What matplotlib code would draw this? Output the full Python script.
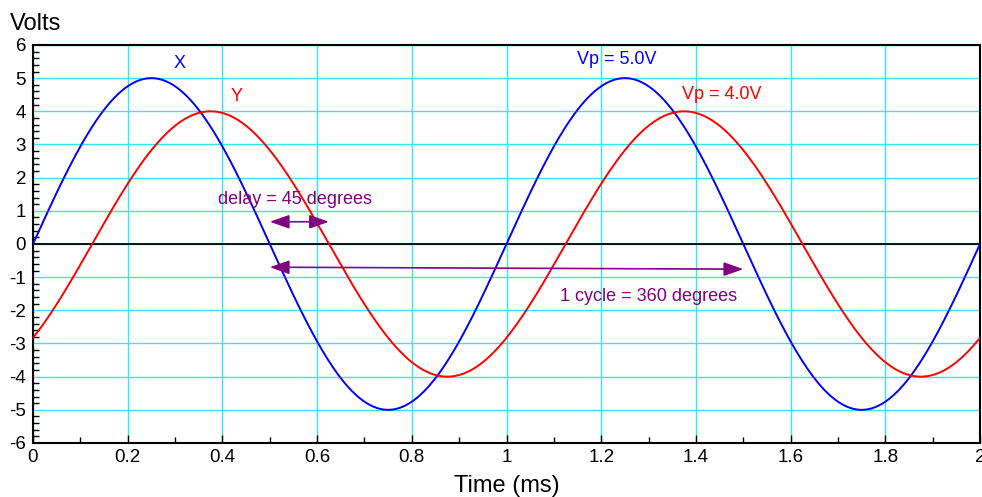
import numpy as np
import matplotlib.pyplot as plt
from matplotlib.ticker import MultipleLocator

plt.rcParams['font.family'] = ['Liberation Sans', 'DejaVu Sans']
plt.rcParams['axes.unicode_minus'] = False

# signal parameters
names = ['X', 'Y']
amplitudes = [5.0, 4.0]          # volts peak
period_ms = 1.0
delays_deg = [0.0, 45.0]
colors = ['#0000ff', '#ff0000']

t = np.linspace(0, 2, 801)

fig = plt.figure(figsize=(9.82, 4.97), dpi=100)
ax = fig.add_axes([0.0336, 0.1087, 0.9644, 0.8008])

for amp, d, c in zip(amplitudes, delays_deg, colors):
    v = amp * np.sin(2 * np.pi * t / period_ms - np.deg2rad(d))
    ax.plot(t, v, color=c, lw=1.4, zorder=3)

ax.axhline(0, color='black', lw=1.3, zorder=2)

ax.set_xlim(0, 2)
ax.set_ylim(-6, 6)
ax.xaxis.set_minor_locator(MultipleLocator(0.1))
ax.yaxis.set_major_locator(MultipleLocator(1))
ax.yaxis.set_minor_locator(MultipleLocator(0.2))
ax.set_xticks(np.arange(0, 2.01, 0.2))
ax.set_xticklabels(['0', '0.2', '0.4', '0.6', '0.8', '1', '1.2', '1.4', '1.6', '1.8', '2'])
ax.grid(True, which='major', color='#33e6f0', lw=1.0, zorder=1)
ax.tick_params(which='both', direction='in', top=False, right=False, labelsize=13.5, pad=4)
ax.tick_params(which='major', length=6, width=1)
ax.tick_params(which='minor', length=4, width=1)
ax.tick_params(axis='y', which='major', length=0, pad=5)
for s in ax.spines.values():
    s.set_linewidth(1.5)

fig.text(0.01, 0.952, 'Volts', fontsize=17, ha='left', va='center')
ax.set_xlabel('Time (ms)', fontsize=17, labelpad=7)

ax.text(0.31, 5.45, 'X', color='#0000ff', fontsize=13, ha='center', va='center')
ax.text(0.43, 4.45, 'Y', color='#ff0000', fontsize=13, ha='center', va='center')
ax.text(1.233, 5.55, 'Vp = 5.0V', color='#0000ff', fontsize=13, ha='center', va='center')
ax.text(1.455, 4.5, 'Vp = 4.0V', color='#ff0000', fontsize=13, ha='center', va='center')

purple = '#800080'
head = '<|-|>,head_length=0.85,head_width=0.3'
ax.text(0.553, 1.35, 'delay = 45 degrees', color=purple, fontsize=13, ha='center', va='center')
ax.annotate('', xy=(0.5, 0.67), xytext=(0.625, 0.67),
            arrowprops=dict(arrowstyle=head, color=purple, lw=1.2, mutation_scale=14,
                            shrinkA=0, shrinkB=0), zorder=4)
ax.annotate('', xy=(0.5, -0.7), xytext=(1.5, -0.76),
            arrowprops=dict(arrowstyle=head, color=purple, lw=1.2, mutation_scale=14,
                            shrinkA=0, shrinkB=0), zorder=4)
ax.text(1.30, -1.57, '1 cycle = 360 degrees', color=purple, fontsize=13, ha='center', va='center')

fig.savefig('out.png', dpi=100)
